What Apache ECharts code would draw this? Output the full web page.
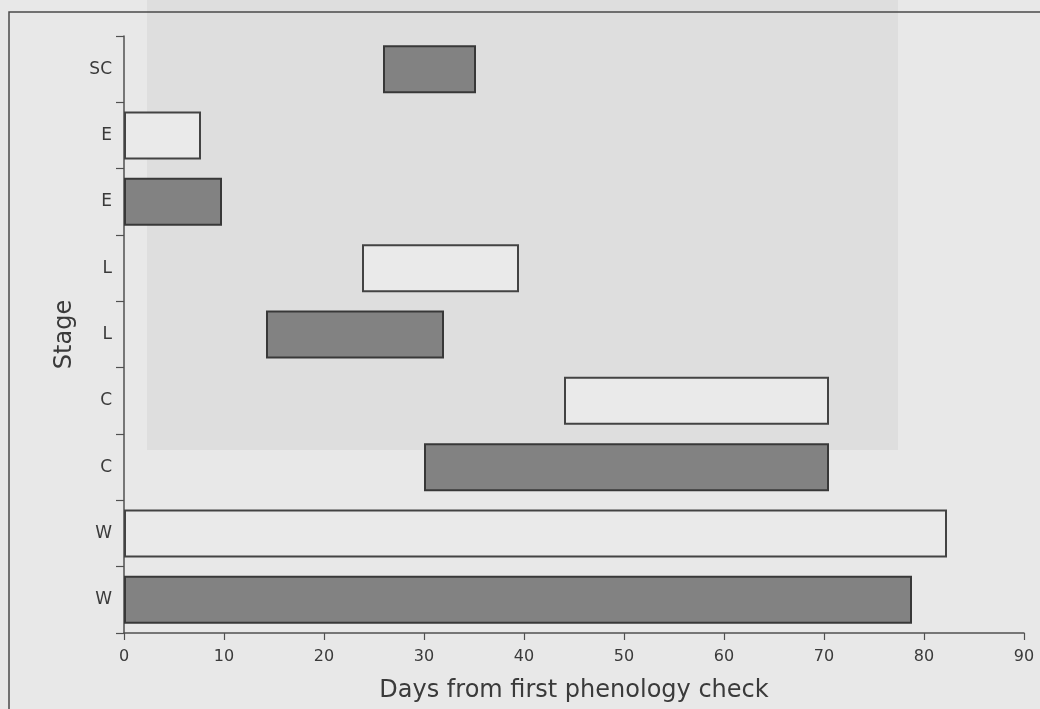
<!DOCTYPE html>
<html>
<head>
<meta charset="utf-8">
<script src="https://cdn.jsdelivr.net/npm/echarts@6/dist/echarts.min.js"></script>
<style>
html,body{margin:0;padding:0;background:#e8e8e8;}
#chart{width:1040px;height:709px;}
</style>
</head>
<body>
<div id="chart"></div>
<script>
// Rows listed bottom to top
var stages = ['W', 'W', 'C', 'C', 'L', 'L', 'E', 'E', 'SC'];
var startDays = [0, 0, 30, 44, 14.2, 23.8, 0, 0, 25.9];
var endDays = [78.8, 82.3, 70.5, 70.5, 32, 39.5, 9.8, 7.7, 35.2];
var filledRow = [true, false, true, false, true, false, true, false, true];
var xTicks = [0, 10, 20, 30, 40, 50, 60, 70, 80, 90];

var baseData = startDays.slice();
var filledData = stages.map(function (s, i) { return filledRow[i] ? +(endDays[i] - startDays[i]).toFixed(2) : '-'; });
var openData = stages.map(function (s, i) { return filledRow[i] ? '-' : +(endDays[i] - startDays[i]).toFixed(2); });

var chart = echarts.init(document.getElementById('chart'), null, {renderer: 'canvas'});
var textColor = '#3a3a3a';
var axisColor = '#505050';
var fontFam = '"DejaVu Sans", sans-serif';

chart.setOption({
  backgroundColor: '#e8e8e8',
  animation: false,
  graphic: [
    {type: 'rect', z: -100, silent: true, shape: {x: 147, y: 0, width: 751, height: 450}, style: {fill: '#dedede'}},
    {type: 'rect', z: -90, silent: true, shape: {x: 9, y: 12, width: 1100, height: 800}, style: {fill: 'none', stroke: '#4a4a4a', lineWidth: 1.5}}
  ],
  grid: {left: 124, right: 16, top: 36, bottom: 76, containLabel: false},
  xAxis: {
    type: 'value',
    min: xTicks[0],
    max: xTicks[xTicks.length - 1],
    interval: 10,
    name: 'Days from first phenology check',
    nameLocation: 'middle',
    nameGap: 46,
    nameTextStyle: {fontSize: 24, color: textColor, fontFamily: fontFam},
    axisLine: {show: true, lineStyle: {color: axisColor, width: 1.5}},
    axisTick: {show: true, length: 7, lineStyle: {color: axisColor, width: 1.2}},
    axisLabel: {fontSize: 16, color: textColor, margin: 16, fontFamily: fontFam},
    splitLine: {show: false}
  },
  yAxis: {
    type: 'category',
    data: stages,
    name: 'Stage',
    nameLocation: 'middle',
    nameGap: 47,
    nameRotate: 90,
    nameTextStyle: {fontSize: 24, color: textColor, fontFamily: fontFam},
    axisLine: {show: true, lineStyle: {color: axisColor, width: 1.5}},
    axisTick: {show: true, length: 8, lineStyle: {color: axisColor, width: 1.2}},
    axisLabel: {fontSize: 17, color: textColor, margin: 12, fontFamily: fontFam},
    splitLine: {show: false}
  },
  series: [
    {
      name: 'base', type: 'bar', stack: 'span', barWidth: 48, silent: true,
      itemStyle: {color: 'transparent', borderWidth: 0},
      data: baseData
    },
    {
      name: 'filled', type: 'bar', stack: 'span', barWidth: 48,
      itemStyle: {color: '#828282', borderColor: '#383838', borderWidth: 2},
      data: filledData
    },
    {
      name: 'open', type: 'bar', stack: 'span', barWidth: 48,
      itemStyle: {color: '#eaeaea', borderColor: '#434343', borderWidth: 2},
      data: openData
    }
  ]
});
</script>
</body>
</html>
